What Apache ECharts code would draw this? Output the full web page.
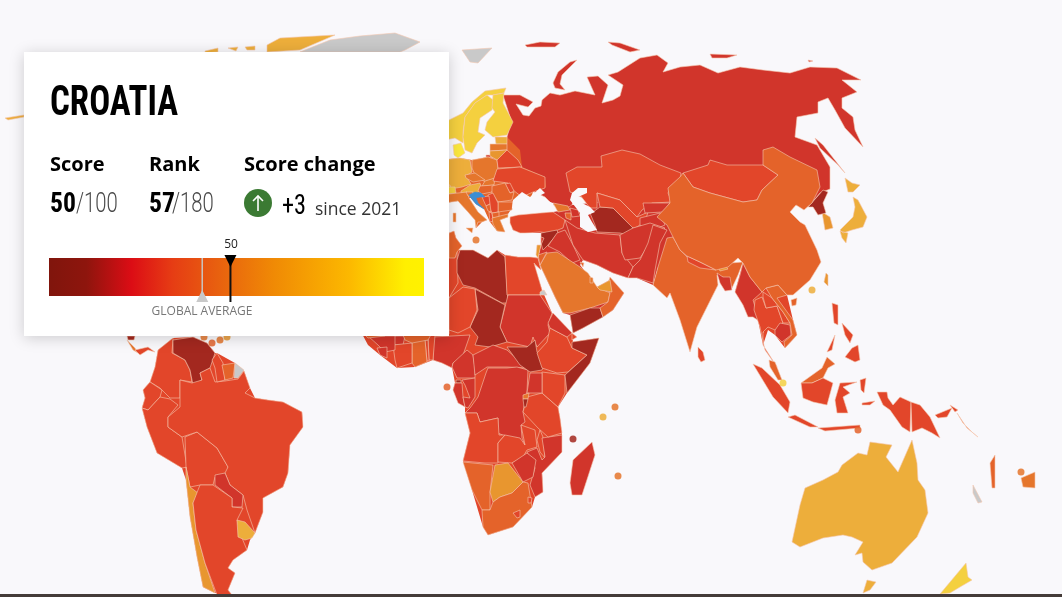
<!DOCTYPE html>
<html><head><meta charset="utf-8">
<style>html,body{margin:0;padding:0;background:#f9f8fb;overflow:hidden}#c{width:1062px;height:597px}</style>
<script src="https://cdn.jsdelivr.net/npm/echarts@6/dist/echarts.min.js"></script>
</head><body><div id="c"></div>
<script>
// ---- values ----
const countryName = "Croatia";
const score = 50, rank = 57, scoreMax = 100, rankMax = 180, scoreChange = "+3", sinceYear = "since 2021";
const globalAverage = 43;
const scaleRange = [5, 98];
const countries = ["Russia","Kazakhstan","Norway","Sweden","Finland","Estonia","Latvia","Lithuania","Denmark","Germany","France","Switzerland","Poland","Czechia","Austria","Slovakia","Hungary","Belarus","Ukraine","Moldova","Romania","Bulgaria","Serbia","Bosnia","Montenegro","Albania","North Macedonia","Greece","Italy","Slovenia","Tunisia","Algeria","Libya","Egypt","Turkey","Georgia","Armenia","Azerbaijan","Syria","Iraq","Iran","Turkmenistan","Uzbekistan","Kyrgyzstan","Tajikistan","Afghanistan","Pakistan","India","Sri Lanka","Nepal","Bhutan","Bangladesh","Myanmar","Thailand","Laos","Vietnam","Cambodia","Malaysia","Indonesia","Papua New Guinea","Solomon Islands","Philippines","Taiwan","Japan","South Korea","North Korea","Mongolia","China","Saudi Arabia","Jordan","Israel","Lebanon","Yemen","Oman","UAE","Qatar","Kuwait","Sudan","Chad","Niger","Nigeria","Benin","Togo","Ghana","Ivory Coast","Burkina Faso","Guinea","Liberia","Mali","Senegal","Cameroon","CAR","Equatorial Guinea","Gabon","Congo","DRC","Angola","Zambia","Malawi","Mozambique","Tanzania","Kenya","Uganda","Rwanda","Burundi","South Sudan","Ethiopia","Eritrea","Djibouti","Somalia","Madagascar","Namibia","Botswana","Zimbabwe","South Africa","Lesotho","Eswatini","Venezuela","Colombia","Ecuador","Peru","Bolivia","Paraguay","Chile","Argentina","Uruguay","Guyana","Suriname","Brazil","Costa Rica","Panama","Nicaragua","Canada","Australia","New Zealand","Vanuatu","Fiji"];
const scores = [28,36,84,83,87,74,59,62,90,79,72,82,55,56,71,53,42,39,33,39,46,43,36,34,45,36,40,52,56,56,40,33,17,30,36,56,46,23,13,23,25,19,31,27,24,24,27,40,36,34,68,25,23,36,31,42,24,47,34,30,42,33,68,73,63,17,33,45,51,47,63,24,16,44,67,58,42,22,19,32,24,39,30,43,37,42,25,26,28,43,26,24,13,29,21,20,33,33,34,26,38,32,26,51,17,13,38,22,30,12,26,49,60,23,43,37,30,14,39,36,36,31,28,67,38,74,39,40,38,54,36,19,74,75,87,48,53];
const noDataAreas = ["Greenland","Svalbard","French Guiana","New Caledonia","Halaib"];
const smallStates = ["Malta","Singapore","Hong Kong","Comoros","Seychelles","Mauritius","Sao Tome","Timor-Leste","Trinidad","Barbados","St Lucia","Aruba","Dominica","Samoa"];
const smallScores = [51,83,76,19,70,50,45,42,42,65,55,50,55,50];
const smallX = [476,783,812,573,603,618,447,858,212,227,220,204,615,1021];
const smallY = [240,383,290,439,417,476,387,430,343,337,340,337,407,472];
const binLimits = [20,30,40,50,60,70,80,90];
const binColors = ["#a3281f","#d1352b","#e2462a","#e4632a","#e5762c","#e8962f","#edae3b","#f4d03f","#fbe83d"];
const scaleStops = [[0,"#80150c"],[0.1,"#8e150d"],[0.22,"#dc0d15"],[0.33,"#e63d14"],[0.45,"#e8600f"],[0.6,"#f08a05"],[0.8,"#fcb800"],[0.95,"#fff000"],[1,"#fff200"]];

// ---- map outlines in map units (no world map ships with the library) ----
const outlines = {
Frame:[[0,0,1062,0,1062,597,0,597]],
Russia:[[503,95,520,95,533,102,528,107,516,104,523,115,529,116,535,108,541,106,542,100,550,93,560,95,575,91,595,95,587,77,598,76,608,85,602,103,613,100,620,96,623,85,608,75,618,72,640,58,657,55,668,63,663,72,680,67,700,65,718,73,740,67,763,70,790,73,810,67,837,68,861,80,842,80,857,92,842,98,842,108,853,117,855,130,863,147,845,128,835,110,828,98,818,102,818,113,797,117,795,137,817,145,830,167,830,189,820,193,810,205,800,205,700,210,620,210,590,200,575,195,572,205,565,210,553,205,545,197,530,190,510,165,505,145,508,133,511,120],[577,60,570,62,558,72,553,83,555,88,565,90,560,84,562,75,572,65],[525,45,540,42,560,43,555,47,527,47],[608,42,620,43,640,50,630,52,612,45],[710,54,737,55,727,58,712,58],[808,60,813,61,809,62],[815,138,823,145,845,173,838,165,820,148],[486,155,491,155,491,157,486,157]],
LandEurope:[[440,160,460,158,472,160,488,157,497,158,507,145,507,137,520,150,522,167,545,177,546,187,533,192,530,200,513,200,512,208,508,214,508,217,500,220,505,232,497,231,490,222,484,209,476,204,471,198,469,198,478,212,487,220,482,222,476,228,475,220,468,212,458,201,445,203,440,203]],
LandAfrica:[[440,250,449,233,454,231,456,238,462,246,457,250,473,250,488,258,497,250,505,255,518,257,530,257,538,258,541,270,534,264,542,290,552,313,553,313,572,333,573,342,599,338,590,363,567,393,558,407,560,418,562,435,562,452,542,473,543,492,535,497,532,507,513,527,488,535,483,527,472,490,463,461,470,433,465,413,465,407,453,390,455,383,452,367,442,363,433,360,415,367,397,368,380,355,368,345,360,330,360,300,420,250]],
LandSouthAmerica:[[173,338,193,337,207,343,215,353,217,353,235,363,244,371,250,388,255,398,268,400,283,402,302,412,303,427,290,445,288,473,283,487,263,498,263,512,255,533,250,540,247,550,233,560,228,568,235,573,228,590,232,595,215,593,203,587,197,557,190,517,186,480,182,468,157,453,147,427,142,408,145,398,143,390,150,382,155,367,158,350]],
LandWestAsia:[[510,217,553,212,565,210,572,205,620,200,680,175,690,260,658,267,653,285,637,278,628,278,613,273,597,265,583,260,580,265,597,287,610,280,624,293,613,310,603,317,583,328,573,333,570,315,563,313,555,297,540,265,538,258,541,245,541,233,525,233,513,230]],
LandIndochina:[[735,292,743,263,766,288,778,285,787,295,793,320,797,335,785,348,775,335,768,330,763,345,757,315]],
Kazakhstan:[[566,173,577,167,602,167,601,156,622,150,640,154,660,165,681,173,680,183,672,185,668,193,672,202,652,203,642,210,637,217,620,200,597,193,597,208,590,208,580,195,570,192]],
Norway:[[440,125,445,122,463,113,472,102,485,91,506,88,504,93,493,95,487,95,475,103,465,117,463,132,463,143,455,138,445,140,440,145]],
Sweden:[[465,117,475,103,487,95,493,100,492,110,480,118,478,132,485,135,477,143,472,153,465,150,463,137]],
Finland:[[493,95,504,93,503,103,513,122,507,135,493,137,485,130,487,122,495,112,492,108]],
Estonia:[[495,137,507,137,507,144,496,144]],
Latvia:[[490,144,507,144,507,150,490,151]],
Lithuania:[[490,151,507,150,500,159,497,160,490,156]],
Denmark:[[453,145,461,143,465,153,458,158,454,155]],
Germany:[[440,160,460,158,470,160,472,172,466,176,471,184,462,187,445,190,440,190]],
France:[[440,185,450,185,452,195,445,202,440,203]],
Switzerland:[[440,187,455,187,456,193,440,195]],
Poland:[[472,160,488,157,497,160,498,168,495,178,485,182,475,175,472,168]],
Czechia:[[465,175,475,173,485,180,473,182,466,178]],
Austria:[[461,191,470,185,480,183,482,190,472,195,461,195]],
Slovakia:[[485,181,495,178,494,185,482,186]],
Hungary:[[480,186,494,185,492,192,482,194,478,191]],
Belarus:[[507,150,518,160,522,167,498,168,497,160]],
Ukraine:[[497,169,520,167,545,177,545,188,533,192,522,197,513,190,508,183,493,181]],
Moldova:[[505,184,510,183,514,191,510,193]],
Romania:[[492,186,505,183,510,193,514,192,512,200,498,202,492,193]],
Bulgaria:[[498,202,513,202,512,210,498,212]],
Serbia:[[488,195,493,193,498,203,498,212,492,213,487,203]],
Bosnia:[[482,197,489,196,490,204,486,206]],
Montenegro:[[486,206,490,204,491,212,488,211]],
Albania:[[489,212,492,213,493,221,490,222]],
"North Macedonia":[[492,213,499,212,499,217,493,218]],
Greece:[[492,218,508,214,508,217,500,220,505,232,497,231,493,224]],
Italy:[[440,195,467,192,469,198,478,212,487,220,482,222,478,222,476,228,475,220,468,212,458,201,445,203],[466,228,473,228,472,233],[453,213,456,213,456,222,453,222]],
Slovenia:[[466,192,473,192,472,196,468,196]],
Algeria:[[430,250,449,233,457,252,458,283,449,298,430,300]],
Tunisia:[[449,233,454,231,456,238,462,246,457,252,455,258,449,258]],
Libya:[[460,250,473,250,488,258,497,250,505,257,508,303,502,303,475,288,463,285,457,273,457,260]],
Egypt:[[505,255,518,257,530,257,538,258,541,270,534,263,542,290,540,295,507,295]],
Turkey:[[510,217,518,215,540,213,553,212,565,220,563,228,550,233,540,232,525,233,520,233,513,230,510,223]],
Georgia:[[553,203,568,206,570,210,558,212]],
Armenia:[[565,213,571,213,571,220,566,218]],
Azerbaijan:[[570,208,578,210,580,216,572,217,571,212]],
Syria:[[541,233,557,230,558,233,548,245,543,250,541,243]],
Iraq:[[557,233,565,230,573,245,580,260,572,263,560,252,548,246]],
Iran:[[565,220,577,228,595,233,620,235,622,253,633,267,628,278,613,273,597,265,583,260,573,245]],
Turkmenistan:[[593,212,600,207,613,208,633,227,628,235,620,233,597,232,595,225,590,213]],
Uzbekistan:[[597,193,620,200,637,217,648,212,645,222,635,228,633,228,613,208,600,207]],
Kyrgyzstan:[[643,203,670,203,663,212,645,213]],
Tajikistan:[[640,218,660,213,665,225,648,232,640,225]],
Afghanistan:[[620,235,633,228,650,223,665,228,650,243,640,258,625,260,622,253]],
Pakistan:[[653,225,667,230,660,243,655,270,653,283,637,278,628,278,633,267,640,260,648,243]],
India:[[667,238,673,237,680,250,688,258,713,268,718,268,730,263,743,262,738,275,732,288,725,278,717,275,718,285,697,327,690,352,680,320,670,293,667,298,653,285,658,267]],
"Sri Lanka":[[698,347,703,352,705,360,701,362,698,357]],
Nepal:[[687,256,700,262,716,270,700,268,688,262]],
Bhutan:[[717,265,723,263,728,269,720,271]],
Bangladesh:[[717,273,723,277,730,277,732,290,725,291,720,283]],
Myanmar:[[743,263,750,277,762,292,753,300,757,313,763,333,762,323,753,317,748,317,743,305,735,292,740,275]],
Thailand:[[755,300,762,297,766,308,777,306,783,323,775,330,768,327,763,332,763,345,777,367,765,350,760,327,754,310]],
Laos:[[763,292,772,298,783,312,790,323,783,323,777,306,766,308,763,297]],
Vietnam:[[766,288,778,285,787,295,777,298,793,320,797,335,785,348,784,342,792,335,790,323,783,312,772,298]],
Cambodia:[[775,330,780,323,790,325,791,335,782,342,775,335]],
Malaysia:[[769,360,775,362,782,380,778,380,770,367],[801,383,822,368,827,357,835,364,828,368,823,378,812,383]],
Indonesia:[[753,364,762,368,780,385,790,402,788,413,773,397],[788,417,795,415,818,427,810,427],[818,428,860,425,860,428,825,431],[801,383,812,383,823,378,833,383,827,405,813,402,803,398],[840,383,857,382,843,387,850,393,843,397,848,413,837,413,835,400],[877,392,887,392,888,398,893,405,900,397,911,402,910,432,902,427,890,410,883,405],[860,380,866,378,864,393,861,390],[862,403,875,401,870,405,862,405]],
"Papua New Guinea":[[911,402,920,405,930,417,940,438,932,433,922,428,912,432],[935,415,952,408,947,417,938,418],[950,405,958,410,955,412]],
"Solomon Islands":[[957,413,963,423,973,433,978,437,967,428]],
Philippines:[[832,303,838,305,838,325,834,323],[842,323,853,335,850,343,845,335],[852,348,858,345,860,360,855,362,845,357],[827,352,835,335,832,350]],
Taiwan:[[826,273,828,275,828,286,824,282]],
Japan:[[853,197,858,200,867,217,863,227,852,230,843,233,840,230,853,217,855,207],[845,178,852,183,860,185,853,192,848,192],[840,231,848,233,846,243,842,238]],
"South Korea":[[822,212,830,217,833,228,825,230]],
"North Korea":[[808,207,817,197,823,190,828,192,823,203,826,213,818,215,813,207]],
Mongolia:[[683,173,708,165,710,160,727,165,763,165,778,175,762,190,757,200,743,202,710,193,693,187]],
China:[[683,173,693,187,710,193,743,202,757,200,762,190,778,175,763,165,763,150,773,147,790,157,817,170,820,187,812,203,804,210,796,205,790,212,800,222,805,225,817,250,821,262,810,280,793,295,787,295,778,285,766,288,762,292,750,277,743,263,738,258,728,267,716,270,700,262,687,256,680,250,673,237,667,225,657,217,670,203,668,188,680,177],[791,300,797,298,796,305,792,306]],
"Saudi Arabia":[[540,265,547,253,557,252,580,267,588,273,597,287,610,293,608,302,590,308,570,313,563,313,555,297]],
Jordan:[[538,255,547,252,541,263,540,265]],
Israel:[[537,245,541,245,538,258,536,255]],
Lebanon:[[541,237,544,238,541,245]],
Yemen:[[570,315,590,308,600,308,603,317,583,328,573,333]],
Oman:[[610,277,624,293,613,310,603,317,600,308,608,302,610,293,607,287]],
UAE:[[597,287,610,280,612,292,600,290]],
Qatar:[[590,277,593,278,593,283,590,283]],
Kuwait:[[580,262,584,263,583,267]],
Sudan:[[508,295,540,295,552,313,548,325,550,333,537,347,533,337,530,347,507,342,500,327,505,307]],
Chad:[[475,289,505,305,500,327,507,342,490,347,475,345,478,337,470,327,478,310]],
Niger:[[430,300,449,298,463,287,475,289,477,310,470,327,458,333,449,330,430,332]],
Mali:[[385,336,405,336,403,345,393,345],[385,310,449,298,449,334,385,336]],
Nigeria:[[433,337,470,335,462,358,453,363,452,368,442,363,433,360]],
Benin:[[428,335,435,335,433,360,429,360]],
Togo:[[425,340,428,340,429,361,427,361]],
Ghana:[[412,340,425,340,427,362,415,367,412,363]],
"Ivory Coast":[[393,345,412,343,412,363,397,368,395,360]],
"Burkina Faso":[[403,335,432,333,428,340,412,343,405,340]],
Guinea:[[368,336,395,336,395,350,385,352,378,345]],
Liberia:[[377,348,387,347,387,358,380,355]],
Senegal:[[360,330,385,330,385,336,368,338]],
Cameroon:[[473,355,467,350,453,363,452,367,457,378,475,378,475,368]],
CAR:[[473,355,493,345,507,350,527,368,507,367,487,367,475,375]],
"Equatorial Guinea":[[456,380,461,380,461,383,456,383]],
Gabon:[[455,383,462,383,463,397,465,407,458,403,453,390]],
Congo:[[475,378,475,397,468,408,465,407,463,397,470,398,465,385,462,380]],
DRC:[[488,368,507,368,517,367,528,370,527,392,523,412,525,422,521,425,522,438,525,445,517,438,507,437,498,433,498,418,480,422,477,413,465,413,470,408,478,397,486,373]],
Angola:[[465,413,477,413,480,422,498,418,499,435,505,435,498,443,498,463,485,463,463,461,470,433]],
Zambia:[[498,443,505,435,520,438,525,445,521,425,535,430,537,447,527,450,523,457,512,463,498,462]],
Malawi:[[540,430,543,437,545,458,540,452,537,440]],
Mozambique:[[562,435,562,452,542,473,543,492,535,497,530,485,535,468,527,452,537,448,542,460,545,457,542,438]],
Tanzania:[[527,397,542,393,558,407,560,418,562,433,548,437,538,428,523,412]],
Kenya:[[542,372,565,375,565,393,558,407,542,393]],
Uganda:[[530,373,542,373,542,393,527,393]],
Rwanda:[[523,395,529,393,528,399,523,399]],
Burundi:[[523,399,528,399,526,407,524,407]],
"South Sudan":[[507,347,527,347,535,340,537,352,545,363,542,370,530,372,520,365]],
Ethiopia:[[550,328,567,337,572,348,587,355,568,372,557,373,542,368,537,353,547,342]],
Eritrea:[[548,323,553,313,572,333,567,337,550,328]],
Djibouti:[[572,333,577,337,572,340]],
Somalia:[[572,342,599,338,590,363,567,393,565,375,587,355,572,348]],
Madagascar:[[592,442,595,455,582,495,572,495,570,483,573,460]],
Namibia:[[463,462,493,465,490,493,490,510,482,510,472,490]],
Botswana:[[495,465,508,463,523,482,512,493,500,497,493,502,490,492]],
Zimbabwe:[[512,463,527,453,536,460,533,477,523,482]],
"South Africa":[[493,502,500,497,512,493,523,482,528,483,532,507,513,527,488,535,483,527,482,510,490,510]],
Lesotho:[[513,513,520,510,520,517,517,518]],
Eswatini:[[528,497,532,498,531,503,528,503]],
Colombia:[[173,338,172,353,185,360,190,370,192,382,180,380,180,398,170,398,160,388,150,382,155,367,158,350]],
Venezuela:[[173,340,193,337,207,343,215,353,210,368,200,373,202,380,193,385,190,370,185,360,173,353]],
Ecuador:[[150,382,162,390,160,397,148,410,142,408,145,398,143,390]],
Peru:[[142,408,148,410,160,397,170,399,178,405,168,417,168,427,182,437,187,467,182,468,157,453,147,427]],
Bolivia:[[185,437,197,432,217,448,228,467,227,473,215,477,213,485,200,485,190,487,186,467]],
Brazil:[[192,383,202,380,200,373,210,368,215,382,225,381,238,379,244,371,250,388,245,393,255,398,268,400,283,402,302,412,303,427,290,445,288,473,283,487,263,498,263,512,255,533,247,510,243,495,230,485,225,473,228,467,217,448,197,432,182,437,168,427,168,417,180,407,180,380]],
Paraguay:[[215,475,225,473,230,485,243,495,242,507,232,507,232,498,215,485]],
Chile:[[186,467,190,487,198,493,193,503,196,530,205,563,215,593,203,587,197,557,190,517,186,480]],
Argentina:[[198,490,200,485,213,485,232,498,232,507,243,508,237,520,242,538,247,550,233,560,228,568,235,573,228,590,232,595,217,595,205,563,196,530,193,503]],
Uruguay:[[237,520,245,522,255,533,252,538,245,540,238,537]],
Guyana:[[212,360,217,353,223,363,225,380,217,382,215,368]],
Suriname:[[222,365,235,363,233,378,225,380]],
"Costa Rica":[[127,340,135,348,138,353,133,350]],
Panama:[[135,350,148,347,155,352,148,350,140,355]],
Nicaragua:[[127,336,135,336,134,340,128,340]],
Canada:[[267,45,280,38,335,35,300,50,267,52],[245,47,255,46,255,50,247,50],[205,51,218,48,218,52,205,53],[228,48,238,47,236,51],[5,118,24,115,24,117,8,120]],
Australia:[[792,542,800,505,805,488,823,480,838,472,842,465,858,453,867,455,870,442,892,445,886,457,898,472,912,440,917,463,918,480,925,490,928,513,917,537,892,563,872,570,863,562,862,553,855,555,863,542,852,537,843,535,823,538,800,547],[867,580,876,582,870,590,863,593]],
"New Zealand":[[966,563,968,577,972,580,960,587,950,593,940,594]],
Vanuatu:[[990,463,995,455,995,488,992,488]],
Fiji:[[1021,478,1035,472,1035,488,1023,487]],
Greenland:[[300,52,330,40,360,36,395,33,420,42,405,50,400,52]],
Svalbard:[[462,50,492,48,478,63,470,62]],
"French Guiana":[[235,363,244,370,238,378,234,378]],
"New Caledonia":[[973,485,982,502,978,503,973,493]],
Halaib:[[540,292,544,290,547,295,540,295]],
Croatia:[[469,195,475,192,481,193,485,197,480,197,476,198,478,203,484,209,476,204,471,198]],
Caspian:[[587,188,578,188,572,193,570,200,580,213,580,227,588,232,597,230,592,222,588,215,595,212,590,207,582,203,578,197,587,193]],
BlackSea:[[513,200,522,192,530,197,540,188,545,193,537,197,553,203,555,210,537,212,518,213,512,208]]
};
const waterAreas = ["Frame","Caspian","BlackSea"];
const landFill = {LandEurope:"#e4632a",LandAfrica:"#e2462a",LandSouthAmerica:"#e2462a",LandWestAsia:"#d1352b",LandIndochina:"#e2462a"};
const seaColor = "#f9f8fb", highlightColor = "#3c8ed3", noDataColor = "#c9c9c9";

function ring(flat){const r=[];for(let i=0;i<flat.length;i+=2)r.push([flat[i],flat[i+1]]);r.push(r[0]);return [r];}
const world={type:"FeatureCollection",features:Object.keys(outlines).map(n=>({type:"Feature",properties:{name:n},geometry:{type:"MultiPolygon",coordinates:outlines[n].map(ring)}}))};
echarts.registerMap("cpi",world);

function binColor(v){let i=0;while(i<binLimits.length&&v>=binLimits[i])i++;return binColors[i];}
const regions=[];
countries.forEach((n,i)=>regions.push({name:n,itemStyle:{areaColor:binColor(scores[i])}}));
regions.push({name:countryName,itemStyle:{areaColor:highlightColor,borderColor:highlightColor}});
waterAreas.forEach(n=>regions.push({name:n,itemStyle:{areaColor:seaColor,borderWidth:0,borderColor:seaColor}}));
Object.keys(landFill).forEach(n=>regions.push({name:n,itemStyle:{areaColor:landFill[n],borderWidth:0,borderColor:landFill[n]}}));

const chart=echarts.init(document.getElementById("c"),null,{renderer:"canvas"});
const T=(text,x,y,o,sx)=>({type:"text",x,y,z:6,scaleX:sx||1,silent:true,style:Object.assign({x:0,y:0,text,verticalAlign:"middle",fill:"#000"},o)});
const narrow='"Liberation Sans Narrow","Roboto Condensed",sans-serif', open='"Open Sans",sans-serif';
const thin={font:'300 27px Roboto,sans-serif',fill:"#4a4a4a"};
chart.setOption({
 animation:false,backgroundColor:seaColor,
 geo:{map:"cpi",left:0,top:0,width:1062,height:597,silent:true,roam:false,z:0,
  projection:{project:p=>p,unproject:p=>p},
  label:{show:false},emphasis:{disabled:true},
  itemStyle:{areaColor:noDataColor,borderColor:"#f5c8b0",borderWidth:0.6},regions},
 grid:{left:49,top:258,width:375,height:38,containLabel:false},
 xAxis:{type:"value",min:scaleRange[0],max:scaleRange[1],show:false},
 yAxis:{type:"value",min:0,max:1,show:false},
 series:[
  {type:"scatter",coordinateSystem:"geo",geoIndex:0,z:1,silent:true,symbolSize:7,
   data:smallStates.map((n,i)=>({name:n,value:[smallX[i],smallY[i],smallScores[i]],itemStyle:{color:binColor(smallScores[i]),opacity:.85}}))},
  {type:"custom",z:4,silent:true,clip:false,data:[[scaleRange[0]]],encode:{x:0},renderItem:(p,api)=>{
    const a=api.coord([scaleRange[0],1]),b=api.coord([scaleRange[1],0]);
    return {type:"rect",shape:{x:a[0],y:a[1],width:b[0]-a[0],height:b[1]-a[1]},style:{fill:new echarts.graphic.LinearGradient(0,0,1,0,scaleStops.map(s=>({offset:s[0],color:s[1]})))}};
  }},
  {type:"custom",z:5,silent:true,clip:false,data:[[globalAverage]],encode:{x:0},renderItem:(p,api)=>{
    const t=api.coord([api.value(0),1]),b=api.coord([api.value(0),0]);
    return {type:"group",children:[
     {type:"line",shape:{x1:t[0],y1:t[1],x2:b[0],y2:b[1]},style:{stroke:"#c9c5c0",lineWidth:1.5}},
     {type:"polygon",shape:{points:[[b[0],b[1]-6],[b[0]-6,b[1]+6],[b[0]+6,b[1]+6]]},style:{fill:"#c9c9c9"}}]};
  }},
  {type:"custom",z:5,silent:true,clip:false,data:[[score]],encode:{x:0},renderItem:(p,api)=>{
    const t=api.coord([api.value(0),1]),b=api.coord([api.value(0),0]);
    return {type:"group",children:[
     {type:"line",shape:{x1:t[0],y1:t[1],x2:b[0],y2:b[1]+6},style:{stroke:"#111",lineWidth:2}},
     {type:"polygon",shape:{points:[[t[0]-6,t[1]-3],[t[0]+6,t[1]-3],[t[0],t[1]+9]]},style:{fill:"#000"}}]};
  }}
 ],
 graphic:[
  {type:"rect",z:3,silent:true,shape:{x:24,y:52,width:425,height:284},style:{fill:"#fff",shadowBlur:14,shadowColor:"rgba(0,0,0,.18)",shadowOffsetY:2}},
  {type:"rect",z:6,silent:true,shape:{x:0,y:594,width:1062,height:3},style:{fill:"#443b38"}},
  T(countryName.toUpperCase(),50,104,{font:'bold 42px '+narrow},0.83),
  T("Score",50,165,{font:'700 20px '+open}),
  T("Rank",149,165,{font:'700 20px '+open}),
  T("Score change",244,165,{font:'700 20px '+open}),
  T(String(score),50,205,{font:'bold 27px '+narrow},0.95),
  T("/"+scoreMax,76,205,thin,0.75),
  T(String(rank),149,205,{font:'bold 27px '+narrow},0.95),
  T("/"+rankMax,172,205,thin,0.75),
  {type:"circle",z:6,silent:true,shape:{cx:258,cy:203,r:14},style:{fill:"#3b7a33"}},
  {type:"polyline",z:7,silent:true,shape:{points:[[258,211],[258,196]]},style:{stroke:"#fff",lineWidth:1.6,fill:null}},
  {type:"polyline",z:7,silent:true,shape:{points:[[253,201],[258,196],[263,201]]},style:{stroke:"#fff",lineWidth:1.6,fill:null}},
  T(scoreChange,282,207,{font:'27px '+narrow},0.9),
  T(sinceYear,315,210,{font:'17.5px '+open,fill:"#333"}),
  T(String(score),231,245,{font:'12px '+open,align:"center",fill:"#222"}),
  T("GLOBAL AVERAGE",202,312,{font:'12px '+open,align:"center",fill:"#777"})
 ]
});
</script></body></html>
